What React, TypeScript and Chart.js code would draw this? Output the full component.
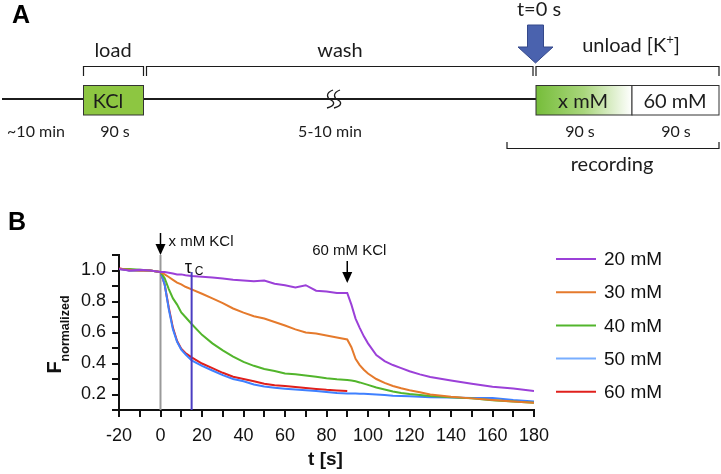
import React, { useEffect, useRef } from "react";
import { Chart, registerables } from "chart.js";

Chart.register(...registerables);

// ---- data ----
const timeS = [-20, -15, -10, -5, 0, 2, 4, 6, 8, 10, 12, 15, 20, 25, 30, 35, 40, 45, 50, 55, 60, 65, 70, 75, 80, 85, 90, 92, 94, 96, 98, 100, 104, 108, 112, 116, 120, 125, 130, 140, 150, 160, 170, 180];

const f20mM = [1.01, 1.0, 1.005, 1.0, 0.99, 0.99, 0.985, 0.98, 0.975, 0.975, 0.97, 0.965, 0.96, 0.955, 0.948, 0.94, 0.935, 0.93, 0.935, 0.915, 0.905, 0.89, 0.905, 0.87, 0.865, 0.855, 0.855, 0.78, 0.69, 0.63, 0.575, 0.53, 0.455, 0.415, 0.39, 0.37, 0.35, 0.33, 0.313, 0.29, 0.27, 0.25, 0.238, 0.223];
const f30mM = [1.01, 1.005, 1.0, 1.0, 0.99, 0.975, 0.958, 0.94, 0.922, 0.91, 0.895, 0.878, 0.85, 0.82, 0.79, 0.755, 0.728, 0.705, 0.69, 0.668, 0.645, 0.62, 0.6, 0.593, 0.58, 0.568, 0.555, 0.505, 0.43, 0.39, 0.36, 0.335, 0.3, 0.275, 0.255, 0.24, 0.228, 0.215, 0.2, 0.185, 0.175, 0.165, 0.155, 0.146];
const f40mM = [1.01, 1.01, 1.005, 1.0, 0.99, 0.95, 0.88, 0.82, 0.78, 0.73, 0.7, 0.655, 0.585, 0.53, 0.485, 0.445, 0.41, 0.385, 0.365, 0.352, 0.335, 0.33, 0.322, 0.315, 0.305, 0.298, 0.293, 0.29, 0.285, 0.278, 0.27, 0.262, 0.245, 0.232, 0.22, 0.21, 0.203, 0.197, 0.19, 0.182, 0.175, 0.163, 0.155, 0.146];
const f50mM = [1.01, 1.0, 1.0, 1.0, 0.99, 0.91, 0.75, 0.62, 0.54, 0.49, 0.46, 0.42, 0.385, 0.355, 0.325, 0.3, 0.285, 0.265, 0.252, 0.243, 0.237, 0.232, 0.228, 0.222, 0.216, 0.21, 0.207, 0.206, 0.206, 0.205, 0.205, 0.204, 0.2, 0.197, 0.192, 0.19, 0.188, 0.186, 0.183, 0.18, 0.177, 0.178, 0.165, 0.155];
const f60mM = [1.015, 1.0, 1.0, 1.0, 0.99, 0.91, 0.76, 0.63, 0.545, 0.495, 0.468, 0.44, 0.4, 0.37, 0.34, 0.315, 0.3, 0.285, 0.27, 0.26, 0.255, 0.248, 0.242, 0.236, 0.23, 0.226, 0.222, null, null, null, null, null, null, null, null, null, null, null, null, null, null, null, null, null];

const seriesLabels = ["20 mM", "30 mM", "40 mM", "50 mM", "60 mM"];
const seriesValues = [f20mM, f30mM, f40mM, f50mM, f60mM];
const lineColors = ["#9B40D8", "#E57A2C", "#52B52C", "#3F80FF", "#E0201C"];
const legendColors = ["#9B40D8", "#E57A2C", "#52B52C", "#78AEFF", "#E0201C"];

const xMin = -20, xMax = 180, xStep = 10, xLabelEvery = 20;
const yMin = 0.1, yMax = 1.1, yStep = 0.1;

const stimulusTime = 0;
const tauC = 15;
const secondStimTime = 90;

const CHART_FONT = "'Liberation Sans', Arial, sans-serif";
const DIAGRAM_FONT = "Lato, 'Open Sans', sans-serif";

function drawPanelA(ctx: CanvasRenderingContext2D) {
  const ink = "#1c1c1c";
  ctx.save();
  ctx.fillStyle = "#000";
  ctx.font = `bold 25px ${CHART_FONT}`;
  ctx.textAlign = "left";
  ctx.textBaseline = "alphabetic";
  ctx.fillText("A", 12, 23);
  ctx.fillText("B", 8, 230);

  ctx.strokeStyle = ink;
  ctx.lineWidth = 2;
  ctx.beginPath();
  ctx.moveTo(2, 99);
  ctx.lineTo(84, 99);
  ctx.moveTo(144, 99);
  ctx.lineTo(536, 99);
  ctx.stroke();

  ctx.lineWidth = 1.3;
  for (const dx of [0, 7]) {
    const x0 = 328 + dx;
    ctx.beginPath();
    ctx.moveTo(x0 + 5, 90);
    ctx.bezierCurveTo(x0 - 3, 93, x0 - 1, 98, x0 + 3, 100);
    ctx.bezierCurveTo(x0 + 7, 102, x0 + 7, 106, x0 - 1, 108);
    ctx.stroke();
  }

  ctx.lineWidth = 1;
  ctx.fillStyle = "#8DC641";
  ctx.fillRect(83.5, 85.5, 60, 29.5);
  ctx.strokeStyle = "#333";
  ctx.strokeRect(83.5, 85.5, 60, 29.5);

  const g = ctx.createLinearGradient(536, 0, 632, 0);
  g.addColorStop(0, "#76BD3A");
  g.addColorStop(0.5, "#A9D67C");
  g.addColorStop(1, "#FFFFFF");
  ctx.fillStyle = g;
  ctx.fillRect(536, 85.5, 96, 29.5);
  ctx.strokeRect(536, 85.5, 96, 29.5);
  ctx.fillStyle = "#fff";
  ctx.fillRect(632, 85.5, 87, 29.5);
  ctx.strokeRect(632, 85.5, 87, 29.5);

  ctx.strokeStyle = ink;
  ctx.lineWidth = 1.2;
  const bracketDown = (x1: number, x2: number) => {
    ctx.beginPath();
    ctx.moveTo(x1, 76);
    ctx.lineTo(x1, 66.5);
    ctx.lineTo(x2, 66.5);
    ctx.lineTo(x2, 76);
    ctx.stroke();
  };
  bracketDown(83.5, 143.5);
  bracketDown(146.5, 533);
  bracketDown(536, 719);
  ctx.beginPath();
  ctx.moveTo(507, 142);
  ctx.lineTo(507, 148.5);
  ctx.lineTo(719, 148.5);
  ctx.lineTo(719, 142);
  ctx.stroke();

  ctx.beginPath();
  ctx.moveTo(527.5, 25);
  ctx.lineTo(543.5, 25);
  ctx.lineTo(543.5, 47);
  ctx.lineTo(553, 47);
  ctx.lineTo(535.5, 63);
  ctx.lineTo(518, 47);
  ctx.lineTo(527.5, 47);
  ctx.closePath();
  ctx.fillStyle = "#4A62AE";
  ctx.fill();
  ctx.strokeStyle = "#34488A";
  ctx.lineWidth = 1;
  ctx.stroke();

  ctx.fillStyle = ink;
  ctx.textAlign = "center";
  ctx.textBaseline = "alphabetic";
  ctx.font = `20px ${DIAGRAM_FONT}`;
  ctx.fillText("load", 113, 57);
  ctx.fillText("wash", 340, 57);
  ctx.fillText("t=0 s", 539, 16);
  ctx.fillText("KCl", 108, 107.5);
  ctx.fillText("x mM", 583, 108);
  ctx.fillText("60 mM", 675, 108);
  ctx.fillText("recording", 612, 171);
  const unload = "unload [K";
  const w1 = ctx.measureText(unload).width;
  ctx.font = `13px ${DIAGRAM_FONT}`;
  const wp = ctx.measureText("+").width;
  ctx.font = `20px ${DIAGRAM_FONT}`;
  const w3 = ctx.measureText("]").width;
  const total = w1 + wp + w3;
  const sx = 631 - total / 2;
  ctx.textAlign = "left";
  ctx.fillText(unload, sx, 52);
  ctx.font = `13px ${DIAGRAM_FONT}`;
  ctx.fillText("+", sx + w1, 44);
  ctx.font = `20px ${DIAGRAM_FONT}`;
  ctx.fillText("]", sx + w1 + wp, 52);

  ctx.textAlign = "center";
  ctx.font = `16px ${DIAGRAM_FONT}`;
  ctx.fillText("~10 min", 36, 136.5);
  ctx.fillText("90 s", 115, 136.5);
  ctx.fillText("5-10 min", 330, 136.5);
  ctx.fillText("90 s", 580, 137);
  ctx.fillText("90 s", 676, 137);
  ctx.restore();
}

const annotationPlugin = {
  id: "annotations",
  beforeDatasetsDraw(chart: any) {
    const { ctx, scales } = chart;
    const xs = scales.x, ys = scales.y;
    const x0 = xs.getPixelForValue(stimulusTime);
    ctx.save();
    ctx.strokeStyle = "#9a9a9a";
    ctx.lineWidth = 2;
    ctx.beginPath();
    ctx.moveTo(x0, ys.top);
    ctx.lineTo(x0, ys.bottom);
    ctx.stroke();
    ctx.restore();
  },
  afterDatasetsDraw(chart: any) {
    const { ctx, scales } = chart;
    const xs = scales.x, ys = scales.y;
    ctx.save();
    const xt = xs.getPixelForValue(tauC);
    ctx.strokeStyle = "#4B3DC2";
    ctx.lineWidth = 2;
    ctx.beginPath();
    ctx.moveTo(xt, ys.getPixelForValue(0.99));
    ctx.lineTo(xt, ys.bottom);
    ctx.stroke();

    const arrow = (x: number, tipY: number, shaft: number) => {
      ctx.strokeStyle = "#000";
      ctx.lineWidth = 1.5;
      ctx.beginPath();
      ctx.moveTo(x, tipY - 10 - shaft);
      ctx.lineTo(x, tipY - 9);
      ctx.stroke();
      ctx.fillStyle = "#000";
      ctx.beginPath();
      ctx.moveTo(x - 5, tipY - 11);
      ctx.lineTo(x + 5, tipY - 11);
      ctx.lineTo(x, tipY);
      ctx.closePath();
      ctx.fill();
    };
    const x0 = xs.getPixelForValue(stimulusTime);
    arrow(x0, ys.top, 12);
    const x90 = xs.getPixelForValue(secondStimTime);
    arrow(x90, ys.getPixelForValue(0.92), 12);

    ctx.fillStyle = "#111";
    ctx.font = `15px ${CHART_FONT}`;
    ctx.textBaseline = "middle";
    ctx.textAlign = "left";
    ctx.fillText("x mM KCl", x0 + 8, 242);
    ctx.textAlign = "center";
    ctx.fillText("60 mM KCl", x90 + 2, 251);

    ctx.textBaseline = "alphabetic";
    ctx.textAlign = "left";
    ctx.font = `18px ${CHART_FONT}`;
    ctx.fillText("τ", xt - 7, 273);
    ctx.font = `12px ${CHART_FONT}`;
    ctx.fillText("C", xt + 3, 275);
    ctx.restore();
  },
  afterDraw(chart: any) {
    const { ctx, scales } = chart;
    const ys = scales.y, xs = scales.x;
    ctx.save();
    ctx.fillStyle = "#111";
    ctx.font = `bold 20px ${CHART_FONT}`;
    const wF = ctx.measureText("F").width;
    ctx.font = `bold 12.5px ${CHART_FONT}`;
    const wS = ctx.measureText("normalized").width;
    const cy = (ys.top + ys.bottom) / 2 + 2;
    ctx.translate(61, cy);
    ctx.rotate(-Math.PI / 2);
    const start = -(wF + wS) / 2;
    ctx.textAlign = "left";
    ctx.textBaseline = "alphabetic";
    ctx.font = `bold 20px ${CHART_FONT}`;
    ctx.fillText("F", start, 0);
    ctx.font = `bold 12.5px ${CHART_FONT}`;
    ctx.fillText("normalized", start + wF, 8);
    ctx.restore();

    ctx.save();
    ctx.fillStyle = "#111";
    ctx.font = `bold 19px ${CHART_FONT}`;
    ctx.textAlign = "center";
    ctx.textBaseline = "alphabetic";
    ctx.fillText("t [s]", (xs.left + xs.right) / 2 - 1, 465);

    ctx.font = `19px ${CHART_FONT}`;
    ctx.textAlign = "left";
    ctx.textBaseline = "middle";
    chart.data.datasets.forEach((ds: any, i: number) => {
      const y = 259 + i * 33.2;
      ctx.strokeStyle = legendColors[i];
      ctx.lineWidth = 2;
      ctx.beginPath();
      ctx.moveTo(556, y);
      ctx.lineTo(596, y);
      ctx.stroke();
      ctx.fillStyle = "#111";
      ctx.fillText(ds.label, 604, y + 1);
    });
    ctx.restore();

    drawPanelA(ctx);
  },
};

export default function App() {
  const canvasRef = useRef<HTMLCanvasElement | null>(null);

  useEffect(() => {
    if (!canvasRef.current) return;
    const datasets = seriesLabels.map((label, i) => ({
      label,
      data: timeS
        .map((t, k) => ({ x: t, y: seriesValues[i][k] }))
        .filter((p) => p.y !== null),
      borderColor: lineColors[i],
      backgroundColor: lineColors[i],
      borderWidth: 2,
      pointRadius: 0,
      tension: 0,
      fill: false,
    }));

    const chart = new Chart(canvasRef.current, {
      type: "line",
      data: { datasets: datasets as any },
      plugins: [annotationPlugin],
      options: {
        animation: false,
        responsive: true,
        maintainAspectRatio: false,
        layout: { padding: { left: 0, top: 255, right: 187, bottom: 0 } },
        plugins: { legend: { display: false }, tooltip: { enabled: false } },
        scales: {
          x: {
            type: "linear",
            min: xMin,
            max: xMax,
            afterFit: (s: any) => { s.height = 64; },
            border: { display: true, color: "#111", width: 2 },
            grid: { drawOnChartArea: false, drawTicks: true, tickLength: 7, color: "#111", lineWidth: 2 },
            ticks: {
              stepSize: xStep,
              autoSkip: false,
              maxRotation: 0,
              padding: 8,
              color: "#111",
              font: { size: 18, family: CHART_FONT },
              callback: (v: any) => (Math.round(v) % xLabelEvery === 0 ? String(Math.round(v)) : ""),
            },
          },
          y: {
            type: "linear",
            min: yMin,
            max: yMax,
            afterFit: (s: any) => { s.width = 119; },
            border: { display: true, color: "#111", width: 2 },
            grid: { drawOnChartArea: false, drawTicks: true, tickLength: 7, color: "#111", lineWidth: 2 },
            ticks: {
              stepSize: yStep,
              autoSkip: false,
              padding: 6,
              color: "#111",
              font: { size: 18, family: CHART_FONT },
              callback: (v: any) => {
                const r = Math.round(Number(v) * 10);
                return r % 2 === 0 && r >= 2 && r <= 10 ? (r / 10).toFixed(1) : "";
              },
            },
          },
        },
      },
    });
    return () => chart.destroy();
  }, []);

  return (
    <div style={{ position: "fixed", left: 0, top: 0, width: 721, height: 474, background: "#fff" }}>
      <canvas ref={canvasRef} />
    </div>
  );
}
